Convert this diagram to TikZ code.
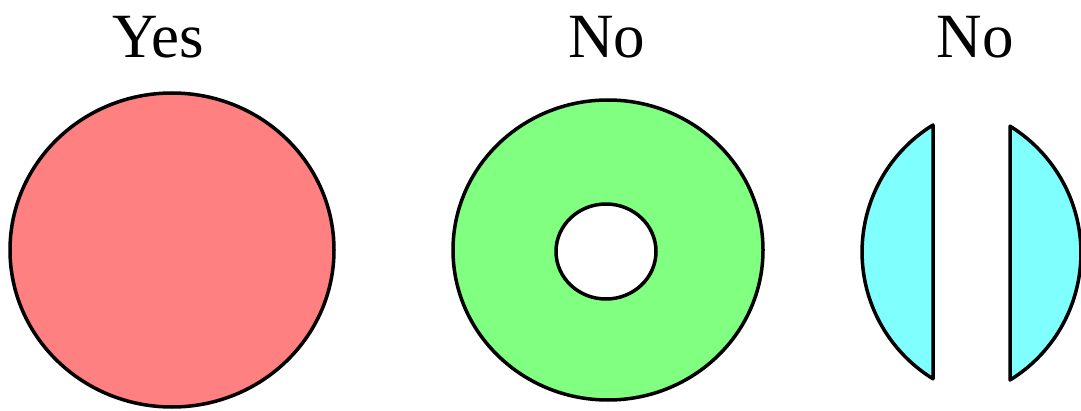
\documentclass[tikz,border=0pt]{standalone}
\usepackage{fontspec}
\setmainfont{Liberation Serif}
\definecolor{cred}{HTML}{FF8080}
\definecolor{cgreen}{HTML}{80FF80}
\definecolor{ccyan}{HTML}{80FFFF}
\tikzset{
  shapeline/.style={draw=black, line width=3.5pt, line join=round},
  label/.style={anchor=base, font=\fontsize{63}{70}\selectfont, inner sep=0pt}
}
\begin{document}
\begin{tikzpicture}[x=1pt,y=1pt]
\useasboundingbox (0,0) rectangle (1081,410);
% labels
\node[label] (yes) at (158,352) {Yes};
\node[label] (no1) at (607,352) {No};
\node[label] (no2) at (975,352) {No};
% red disc
\path[shapeline, fill=cred] (172,160) ellipse [x radius=162, y radius=157];
% green annulus
\path[shapeline, fill=cgreen, even odd rule] (608,160) ellipse [x radius=155, y radius=150]
  (606,158.5) ellipse [x radius=50, y radius=47.5];
% cyan segments
\path[shapeline, fill=ccyan] (933,285) arc[start angle=121.6, end angle=238.4, radius=149] -- cycle;
\path[shapeline, fill=ccyan] (1010,30) arc[start angle=-58.4, end angle=58.4, radius=149] -- cycle;
\end{tikzpicture}
\end{document}
